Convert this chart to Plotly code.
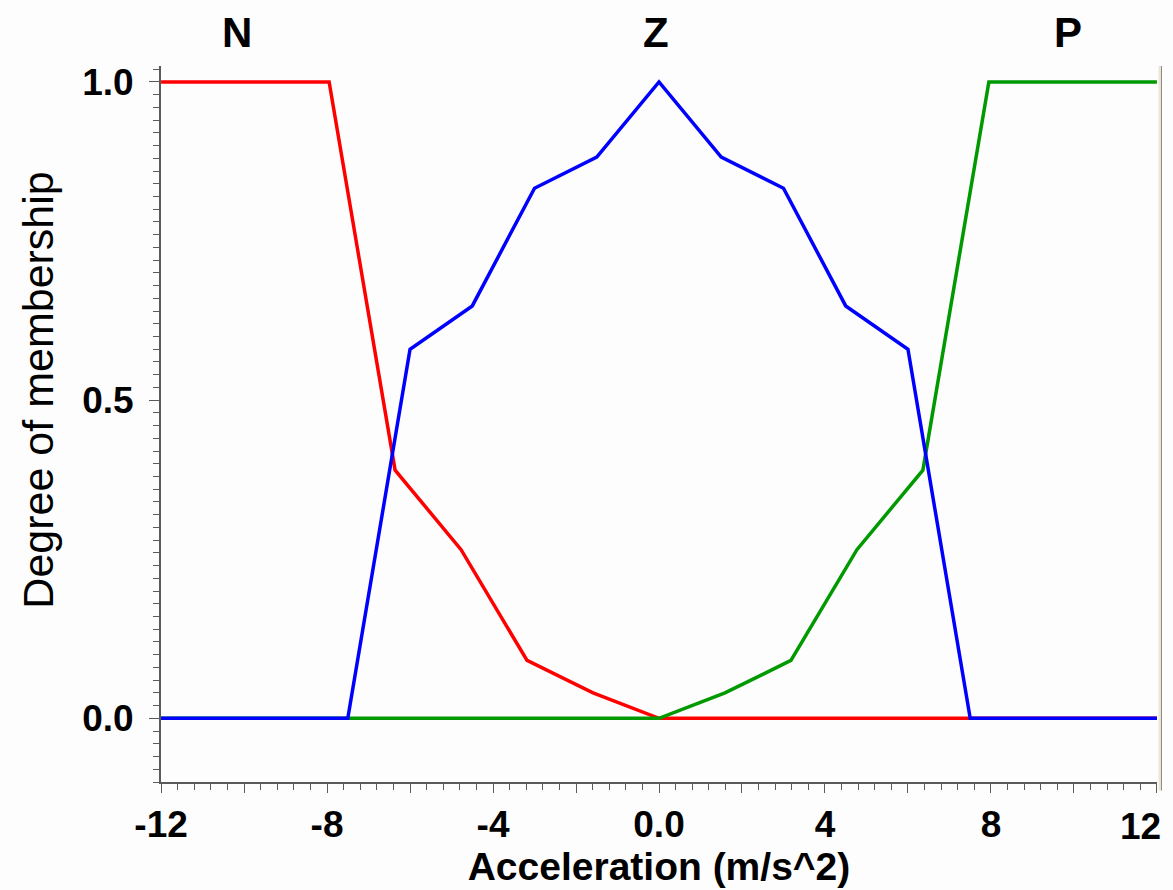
import plotly.graph_objects as go

# ---- data ----
n_x = [-12, -7.95, -6.36, -4.77, -3.18, -1.59, 0, 12]
n_y = [1.0, 1.0, 0.39, 0.265, 0.091, 0.04, 0.0, 0.0]

z_x = [-12, -7.5, -6.0, -4.5, -3.0, -1.5, 0, 1.5, 3.0, 4.5, 6.0, 7.5, 12]
z_y = [0.0, 0.0, 0.58, 0.648, 0.833, 0.882, 1.0, 0.882, 0.833, 0.648, 0.58, 0.0, 0.0]

p_x = [-12, 0, 1.59, 3.18, 4.77, 6.36, 7.95, 12]
p_y = [0.0, 0.0, 0.04, 0.091, 0.265, 0.39, 1.0, 1.0]

set_labels = ["N", "Z", "P"]
set_label_x = [-10.17, -0.07, 9.86]

x_tickvals = [-12, -10, -8, -6, -4, -2, 0, 2, 4, 6, 8, 10, 12]
x_ticktext = ["-12", "", "-8", "", "-4", "", "0.0", "", "4", "", "8", "", ""]
x_last_label = "12"   # drawn right-aligned at the axis end, as in the reference
y_tickvals = [0.0, 0.5, 1.0]
y_ticktext = ["0.0", "0.5", "1.0"]

FONT = "Liberation Sans, Arial, sans-serif"
AXIS_COLOR = "#5a5a5a"

fig = go.Figure()
fig.add_trace(go.Scatter(x=n_x, y=n_y, mode="lines", name="N",
                         line=dict(color="#ff0000", width=3.5)))
fig.add_trace(go.Scatter(x=p_x, y=p_y, mode="lines", name="P",
                         line=dict(color="#009a00", width=3.5)))
fig.add_trace(go.Scatter(x=z_x, y=z_y, mode="lines", name="Z",
                         line=dict(color="#0000ff", width=3.5)))

for lab, lx in zip(set_labels, set_label_x):
    fig.add_annotation(x=lx, y=1.047, xref="x", yref="paper", text="<b>%s</b>" % lab,
                       showarrow=False, xanchor="center", yanchor="middle",
                       font=dict(family=FONT, size=42, color="black"))

# last x tick label, kept inside the page
fig.add_annotation(x=1.006, y=-0.0615, xref="paper", yref="paper",
                   text="<b>%s</b>" % x_last_label, showarrow=False,
                   xanchor="right", yanchor="middle",
                   font=dict(family=FONT, size=37, color="black"))

# y axis title (placed as annotation to match its off-centre position)
fig.add_annotation(x=-0.1235, y=0.548, xref="paper", yref="paper",
                   text="Degree of membership", textangle=-90, showarrow=False,
                   xanchor="center", yanchor="middle",
                   font=dict(family=FONT, size=43, color="black"))

# right frame edge
fig.add_shape(type="line", xref="paper", yref="paper", x0=1.003, x1=1.003, y0=-0.012, y1=1.0,
              line=dict(color="#ebe6d6", width=3))
fig.add_shape(type="line", xref="paper", yref="paper", x0=1.0045, x1=1.0045, y0=-0.012, y1=1.0,
              line=dict(color="#8c8a84", width=1))

fig.update_layout(
    width=1173, height=890,
    margin=dict(l=161, r=16, t=66, b=108),
    paper_bgcolor="#fdfdfd", plot_bgcolor="#fdfdfd",
    showlegend=False,
    font=dict(family=FONT, color="black"),
)
fig.update_xaxes(
    range=[-12.002, 12.002], showgrid=False, zeroline=False, automargin=False,
    showline=True, linecolor=AXIS_COLOR, linewidth=2,
    tickmode="array", tickvals=x_tickvals, ticktext=x_ticktext,
    ticks="outside", ticklen=9, tickwidth=1, tickcolor=AXIS_COLOR,
    tickfont=dict(family=FONT, size=37, color="black", weight="bold"),
    minor=dict(tickmode="linear", tick0=-12, dtick=0.4, ticks="outside",
               ticklen=6, tickwidth=1, tickcolor=AXIS_COLOR),
    title=dict(text="<b>Acceleration (m/s^2)</b>", standoff=2,
               font=dict(family=FONT, size=39, color="black")),
)
fig.update_yaxes(
    range=[-0.1, 1.025], showgrid=False, zeroline=False, automargin=False,
    showline=True, linecolor=AXIS_COLOR, linewidth=2,
    tickmode="array", tickvals=y_tickvals, ticktext=y_ticktext,
    ticks="outside", ticklen=10, tickwidth=1, tickcolor=AXIS_COLOR,
    ticklabelstandoff=8,
    tickfont=dict(family=FONT, size=37, color="black", weight="bold"),
    minor=dict(tickmode="linear", tick0=0, dtick=0.02, ticks="outside",
               ticklen=6, tickwidth=1, tickcolor=AXIS_COLOR),
)

fig.write_html("out.html")
